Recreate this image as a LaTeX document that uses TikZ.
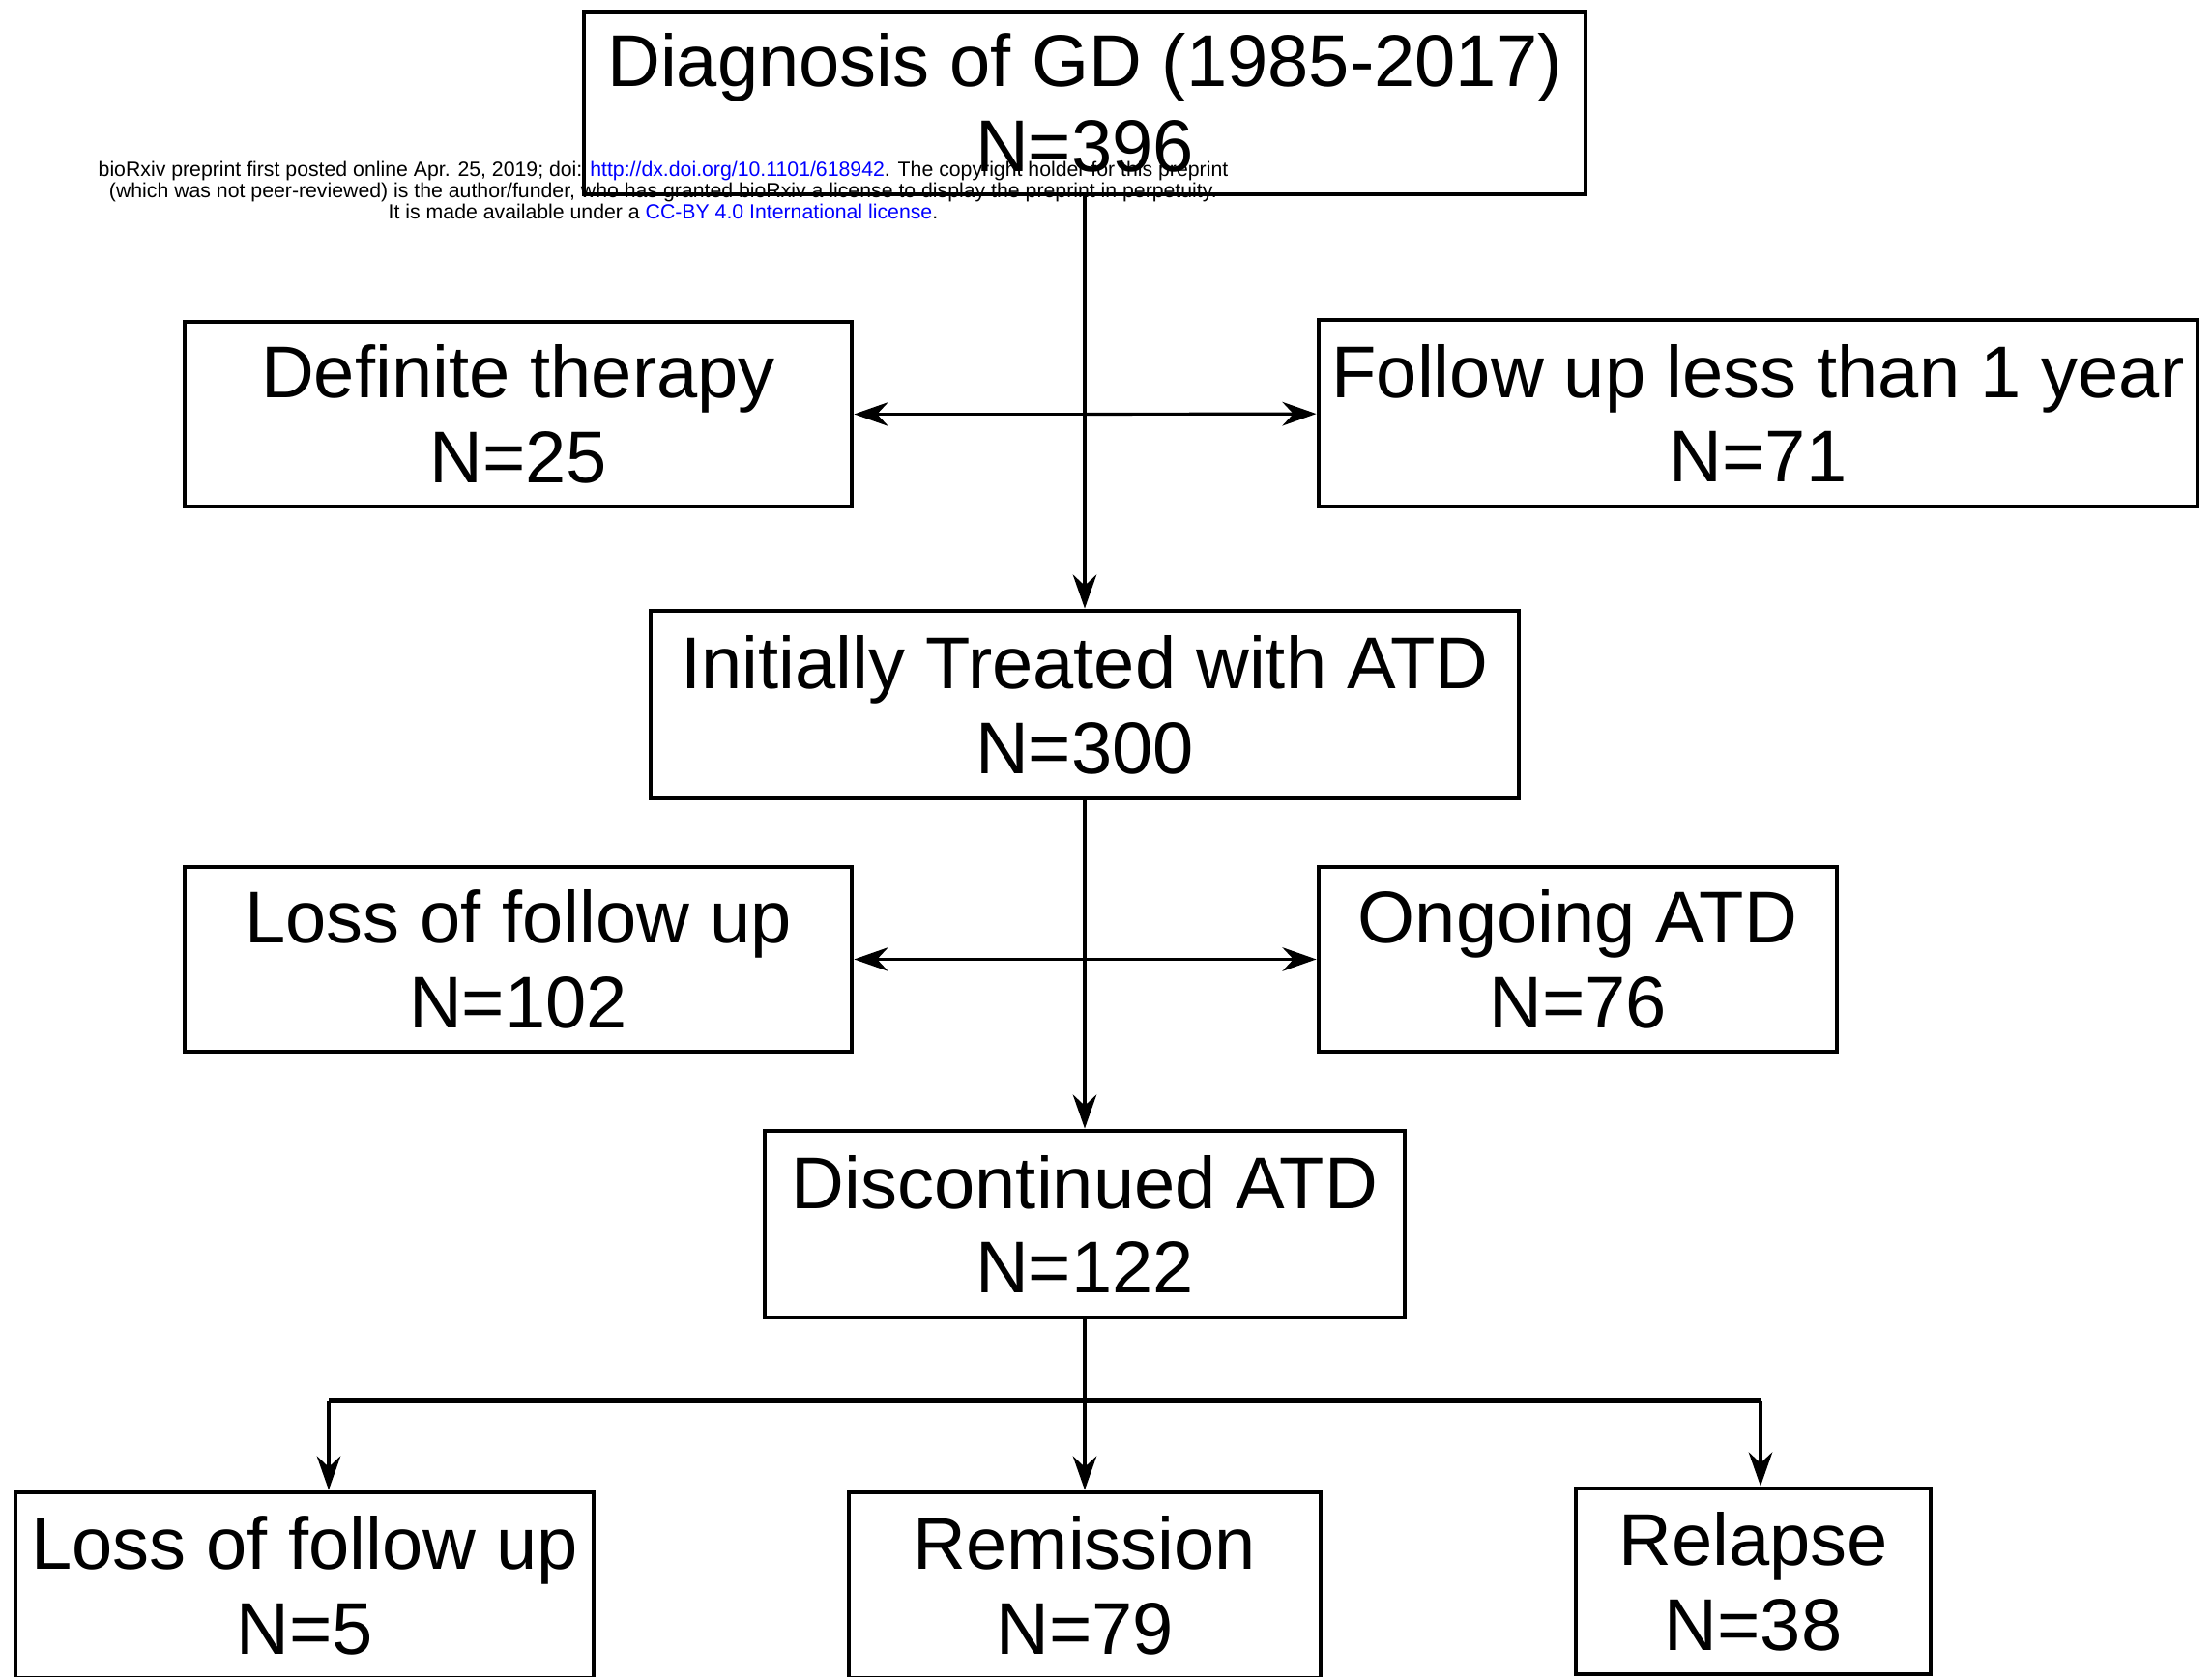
\documentclass[tikz,border=0pt]{standalone}
\usepackage{fontspec}
\setmainfont{Liberation Sans}
\usetikzlibrary{arrows.meta, positioning, calc}

\begin{document}
\begin{tikzpicture}[
    stage/.style={rectangle, draw=black, line width=1.4pt, align=center, inner sep=0pt,
      font=\fontsize{21.6}{25}\selectfont},
    arrow/.style={line width=0.9pt, -{Stealth[length=10pt, width=7pt]}},
    line/.style={line width=0.9pt},
    bus/.style={line width=1.8pt},
]
    \useasboundingbox (0,0) rectangle (22.88,17.34);

    % top
    \node (diag) [stage, minimum width=10.36cm, minimum height=1.89cm] at (11.22,16.275)
      {Diagnosis of GD (1985-2017)\\N=396};

    % first exclusions
    \node (defin) [stage, minimum width=6.9cm, minimum height=1.91cm] at (5.36,13.055)
      {Definite therapy\\N=25};
    \node (short) [stage, minimum width=9.09cm, minimum height=1.93cm] at (18.185,13.065)
      {Follow up less than 1 year\\N=71};

    % ATD
    \node (atd) [stage, minimum width=8.98cm, minimum height=1.94cm] at (11.22,10.05)
      {Initially Treated with ATD\\N=300};

    % second exclusions
    \node (lost) [stage, minimum width=6.9cm, minimum height=1.91cm] at (5.36,7.415)
      {Loss of follow up\\N=102};
    \node (ongoing) [stage, minimum width=5.36cm, minimum height=1.91cm] at (16.32,7.415)
      {Ongoing ATD\\N=76};

    % discontinued
    \node (stop) [stage, minimum width=6.62cm, minimum height=1.93cm] at (11.22,4.675)
      {Discontinued ATD\\N=122};

    % outcomes
    \node (lost_b) [stage, minimum width=5.98cm, minimum height=1.92cm] at (3.15,0.94)
      {Loss of follow up\\N=5};
    \node (remis) [stage, minimum width=4.88cm, minimum height=1.92cm] at (11.22,0.94)
      {Remission\\N=79};
    \node (relap) [stage, minimum width=3.67cm, minimum height=1.92cm] at (18.135,0.98)
      {Relapse\\N=38};

    % preprint stamp
    \node (stamp) [align=center, inner sep=0pt, font=\fontsize{6.05}{6.3}\selectfont] at (6.86,15.37)
      {bioRxiv preprint first posted online Apr. 25, 2019; doi: \textcolor{blue}{http://dx.doi.org/10.1101/618942}. The copyright holder for this preprint\\
       (which was not peer-reviewed) is the author/funder, who has granted bioRxiv a license to display the preprint in perpetuity.\\
       It is made available under a \textcolor{blue}{CC-BY 4.0 International license}.};

    \coordinate (split_a) at (diag.south |- defin.east);
    \coordinate (split_b) at (atd.south |- lost.east);
    \coordinate (bus_c) at (11.22,2.85);
    \coordinate (bus_l) at (3.40,2.85);
    \coordinate (bus_r) at (18.21,2.85);

    \draw [arrow] (diag) -- (atd);
    \draw [arrow] (split_a) -- (defin);
    \draw [arrow] (split_a) -- (short);
    \draw [arrow] (atd) -- (stop);
    \draw [arrow] (split_b) -- (lost);
    \draw [arrow] (split_b) -- (ongoing);
    \draw [line] (stop) -- (bus_c);
    \draw [bus] (bus_l) -- (bus_r);
    \draw [arrow] (bus_l) -- (bus_l |- lost_b.north);
    \draw [arrow] (bus_c) -- (remis);
    \draw [arrow] (bus_r) -- (bus_r |- relap.north);

\end{tikzpicture}
\end{document}
